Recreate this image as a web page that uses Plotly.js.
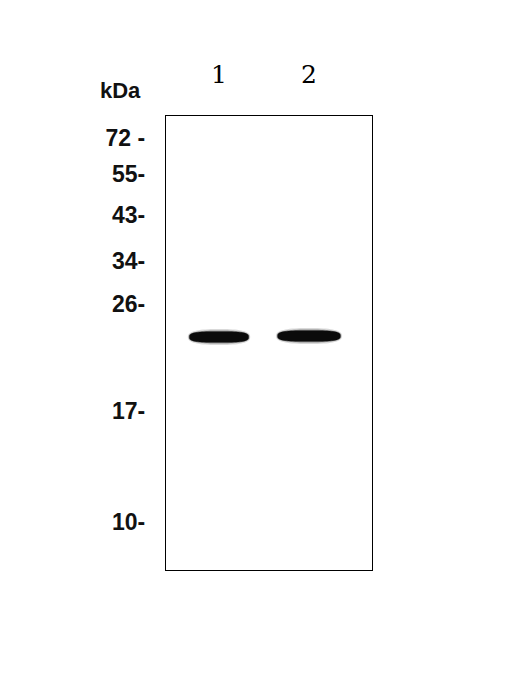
<!DOCTYPE html>
<html>
<head>
<meta charset="utf-8">
<script src="https://cdn.plot.ly/plotly-3.0.1.min.js"></script>
<style>html,body{margin:0;padding:0;background:#fff;}#chart{width:517px;height:686px;}</style>
</head>
<body>
<div id="chart"></div>
<script>
// Lanes
var laneLabels = ["1", "2"];
var laneX = [1, 2];
// Molecular weight markers (kDa) and their migration distance from gel top (arbitrary units)
var markerLabels = ["72", "55", "43", "34", "26", "17", "10"];
var markerPos = [22, 58, 99, 144.5, 188, 295, 406];
// Detected bands: migration distance, band width (lane units), band thickness
var bandPos = [221, 220];
var bandWidth = [0.66, 0.70];
var bandThick = [11, 11];
var gelLength = 454;

function bandPath(cx, cy, w, h, n) {
  var a = w / 2, b = h / 2, pts = [];
  for (var i = 0; i < 72; i++) {
    var t = i / 72 * 2 * Math.PI;
    var c = Math.cos(t), s = Math.sin(t);
    var x = cx + a * Math.sign(c) * Math.pow(Math.abs(c), 2 / n);
    var y = cy + b * Math.sign(s) * Math.pow(Math.abs(s), 2 / n);
    pts.push((i === 0 ? "M" : "L") + x.toFixed(4) + "," + y.toFixed(3));
  }
  return pts.join(" ") + " Z";
}

var shapes = [];
for (var k = 0; k < laneX.length; k++) {
  shapes.push({type: "path", xref: "x", yref: "y", path: bandPath(laneX[k], bandPos[k], bandWidth[k] * 1.05, bandThick[k] * 1.45, 2.6),
    fillcolor: "rgba(0,0,0,0.15)", line: {width: 0}, layer: "above"});
  shapes.push({type: "path", xref: "x", yref: "y", path: bandPath(laneX[k], bandPos[k], bandWidth[k] * 1.02, bandThick[k] * 1.18, 2.8),
    fillcolor: "rgba(0,0,0,0.35)", line: {width: 0}, layer: "above"});
  shapes.push({type: "path", xref: "x", yref: "y", path: bandPath(laneX[k], bandPos[k], bandWidth[k], bandThick[k], 3.2),
    fillcolor: "#0b0b0b", line: {width: 0}, layer: "above"});
}

var labelFont = "'Liberation Sans', Arial, sans-serif";
var tickText = markerLabels.map(function (m, i) { return i === 0 ? m + " -" : m + "-"; });

var data = [{
  x: laneX, y: bandPos, type: "scatter", mode: "markers",
  marker: {size: 1, color: "rgba(0,0,0,0)"}, hoverinfo: "skip", showlegend: false
}];

var layout = {
  width: 517, height: 686,
  margin: {l: 166, r: 145, t: 116, b: 116},
  paper_bgcolor: "#ffffff", plot_bgcolor: "#ffffff",
  showlegend: false,
  xaxis: {
    range: [0.411, 2.70], side: "top", tickmode: "array", tickvals: laneX, ticktext: laneLabels,
    ticks: "outside", ticklen: 22, tickcolor: "rgba(0,0,0,0)",
    tickfont: {family: "'DejaVu Serif', 'Liberation Serif', serif", size: 25, color: "#000"},
    showgrid: false, zeroline: false, showline: true, mirror: true, linecolor: "#000", linewidth: 1.2, fixedrange: true
  },
  yaxis: {
    range: [gelLength, 0], tickmode: "array", tickvals: markerPos, ticktext: tickText,
    ticks: "outside", ticklen: 15, tickcolor: "rgba(0,0,0,0)",
    tickfont: {family: labelFont, size: 23, color: "#111", weight: "bold"},
    showgrid: false, zeroline: false, showline: true, mirror: true, linecolor: "#000", linewidth: 1.2, fixedrange: true
  },
  shapes: shapes,
  annotations: [{
    text: "kDa", xref: "paper", yref: "paper", x: -0.223, y: 1.057, xanchor: "center", yanchor: "middle",
    showarrow: false, font: {family: labelFont, size: 22, color: "#111", weight: "bold"}
  }]
};

Plotly.newPlot("chart", data, layout, {staticPlot: true, displayModeBar: false});
</script>
</body>
</html>
